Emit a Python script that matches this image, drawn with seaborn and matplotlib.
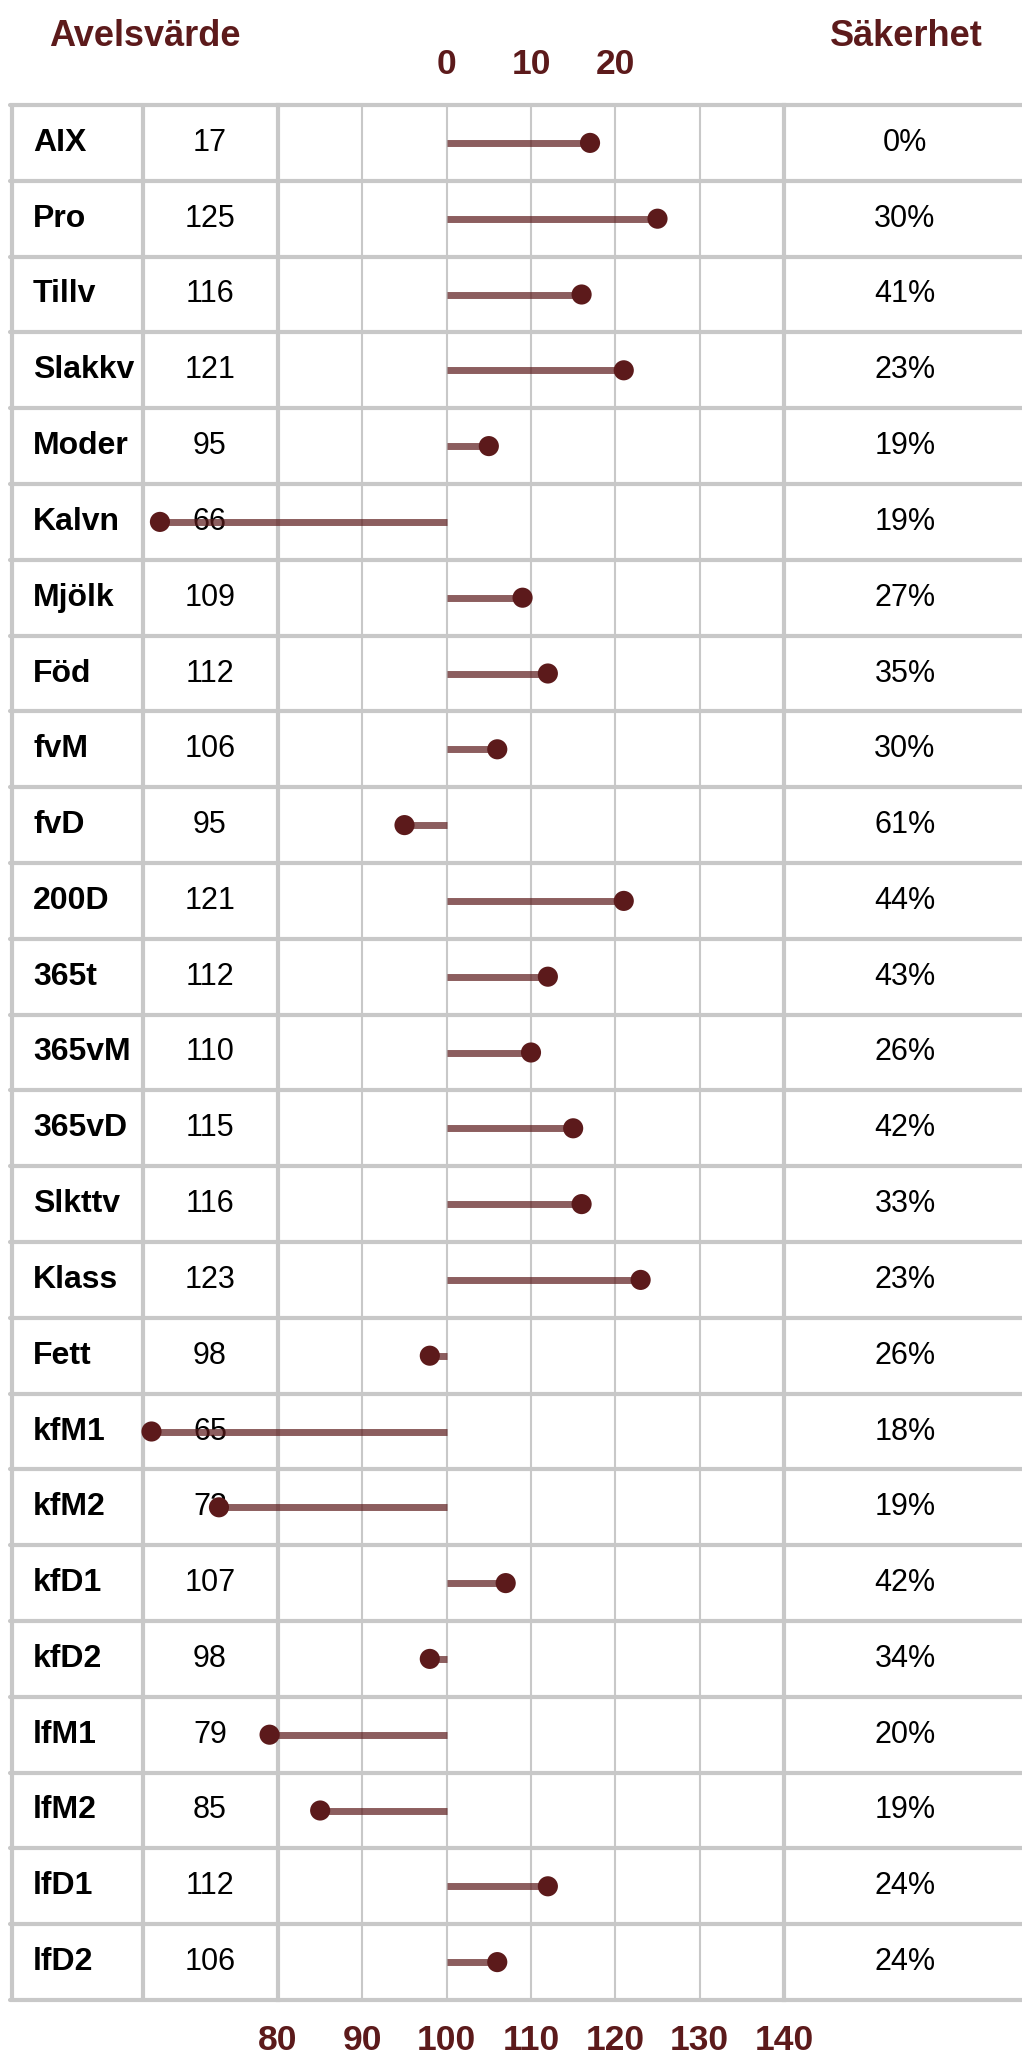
import matplotlib
matplotlib.use("Agg")
import matplotlib.pyplot as plt
import matplotlib.transforms as mtransforms
import seaborn as sns
import pandas as pd
import numpy as np

traits = ["AIX", "Pro", "Tillv", "Slakkv", "Moder", "Kalvn", "Mjölk", "Föd", "fvM", "fvD",
          "200D", "365t", "365vM", "365vD", "Slkttv", "Klass", "Fett", "kfM1", "kfM2",
          "kfD1", "kfD2", "lfM1", "lfM2", "lfD1", "lfD2"]
avelsvarde = [17, 125, 116, 121, 95, 66, 109, 112, 106, 95, 121, 112, 110, 115, 116, 123,
              98, 65, 73, 107, 98, 79, 85, 112, 106]
# where each dot sits on the 80-140 scale (AIX uses the 0-20 scale on top)
dot_pos = [117, 125, 116, 121, 105, 66, 109, 112, 106, 95, 121, 112, 110, 115, 116, 123,
           98, 65, 73, 107, 98, 79, 85, 112, 106]
sakerhet = [0, 30, 41, 23, 19, 19, 27, 35, 30, 61, 44, 43, 26, 42, 33, 23, 26, 18, 19,
            42, 34, 20, 19, 24, 24]
bottom_ticks = [80, 90, 100, 110, 120, 130, 140]
top_ticks = [0, 10, 20]

df = pd.DataFrame({"trait": traits, "value": avelsvarde, "pos": dot_pos,
                   "sak": sakerhet, "row": np.arange(len(traits))})

sns.set_theme(style="white")
plt.rcParams["font.family"] = ["Liberation Sans", "DejaVu Sans"]

maroon = "#5c1a1b"
gridc = "#c8c8c8"
W, H = 1022, 2053
n = len(df)

fig = plt.figure(figsize=(W / 100, H / 100), dpi=100)
ax = fig.add_axes([278 / W, 53 / H, 506 / W, 1895 / H])

ax.hlines(df["row"], 100, df["pos"], color=maroon, alpha=0.7, lw=5, zorder=3, clip_on=False)
sns.scatterplot(data=df, x="pos", y="row", s=210, color=maroon, edgecolor="none",
                zorder=4, clip_on=False, legend=False, ax=ax)

ax.set_xlim(80, 140)
ax.set_ylim(n - 0.5, -0.5)
ax.set_xticks(bottom_ticks)
ax.set_yticks([])
ax.set_xlabel("")
ax.set_ylabel("")
ax.grid(axis="x", color=gridc, lw=1.5)
ax.tick_params(axis="x", length=0, pad=17, labelsize=25.5, labelcolor=maroon)
for lab in ax.get_xticklabels():
    lab.set_fontweight("bold")
for side in ["top", "bottom"]:
    ax.spines[side].set_visible(False)
for side in ["left", "right"]:
    ax.spines[side].set_color(gridc)
    ax.spines[side].set_linewidth(3)

sec = ax.secondary_xaxis("top", functions=(lambda x: x - 100, lambda x: x + 100))
sec.set_xticks(top_ticks)
sec.tick_params(length=0, pad=17, labelsize=25.5, labelcolor=maroon)
for lab in sec.get_xticklabels():
    lab.set_fontweight("bold")
sec.spines["top"].set_visible(False)

# table lines
blend = mtransforms.blended_transform_factory(fig.transFigure, ax.transData)
for b in np.arange(n + 1) - 0.5:
    ax.plot([10 / W, 1], [b, b], transform=blend, color=gridc, lw=3, clip_on=False, zorder=0.5)
for xpx in [12, 143]:
    ax.plot([xpx / W, xpx / W], [-0.5, n - 0.5], transform=blend, color=gridc, lw=3,
            clip_on=False, zorder=0.5)

for _, r in df.iterrows():
    ax.text(33 / W, r["row"], r["trait"], transform=blend, ha="left", va="center",
            fontsize=23, fontweight="bold", color="black", zorder=1)
    ax.text(210 / W, r["row"], str(r["value"]), transform=blend, ha="center", va="center",
            fontsize=22, color="black", zorder=1)
    ax.text(905 / W, r["row"], f"{r['sak']}%", transform=blend, ha="center", va="center",
            fontsize=22, color="black", zorder=1)

fig.text(145 / W, 1 - 36 / H, "Avelsvärde", ha="center", va="center", fontsize=26,
         fontweight="bold", color=maroon)
fig.text(906 / W, 1 - 36 / H, "Säkerhet", ha="center", va="center", fontsize=26,
         fontweight="bold", color=maroon)

fig.savefig("out.png", dpi=100)
